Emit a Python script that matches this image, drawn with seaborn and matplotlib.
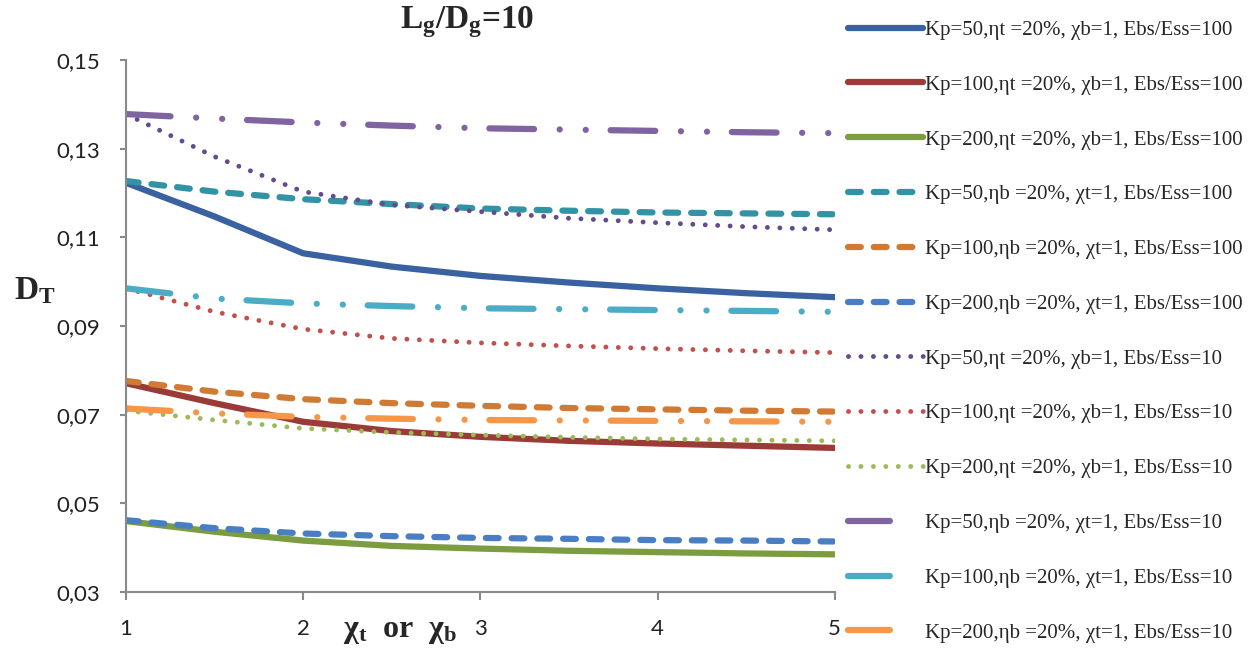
import matplotlib
matplotlib.use("Agg")
import matplotlib.pyplot as plt
from matplotlib.lines import Line2D
import seaborn as sns
import numpy as np

# values (x = chi_t or chi_b)
chi = [1, 1.5, 2, 2.5, 3, 3.5, 4, 4.5, 5]

kp50_t_100 = [0.1223, 0.1147, 0.1064, 0.1034, 0.1013, 0.0998, 0.0985, 0.0974, 0.0965]
kp100_t_100 = [0.0771, 0.0726, 0.0684, 0.0663, 0.0650, 0.0641, 0.0635, 0.0630, 0.0625]
kp200_t_100 = [0.0460, 0.0436, 0.0416, 0.0404, 0.0398, 0.0393, 0.0390, 0.0387, 0.0385]
kp50_b_100 = [0.1227, 0.1203, 0.1186, 0.1175, 0.1165, 0.1160, 0.1156, 0.1154, 0.1152]
kp100_b_100 = [0.0776, 0.0752, 0.0735, 0.0726, 0.0720, 0.0715, 0.0712, 0.0709, 0.0707]
kp200_b_100 = [0.0462, 0.0444, 0.0432, 0.0426, 0.0422, 0.0420, 0.0417, 0.0416, 0.0414]
kp50_t_10 = [0.1378, 0.1282, 0.1203, 0.1173, 0.1158, 0.1143, 0.1133, 0.1124, 0.1117]
kp100_t_10 = [0.0985, 0.0932, 0.0893, 0.0872, 0.0862, 0.0855, 0.0849, 0.0844, 0.0840]
kp200_t_10 = [0.0709, 0.0688, 0.0669, 0.0660, 0.0654, 0.0649, 0.0645, 0.0643, 0.0641]
kp50_b_10 = [0.1378, 0.1368, 0.1359, 0.1352, 0.1346, 0.1343, 0.1340, 0.1337, 0.1335]
kp100_b_10 = [0.0985, 0.0962, 0.0951, 0.0945, 0.0940, 0.0938, 0.0936, 0.0934, 0.0932]
kp200_b_10 = [0.0714, 0.0703, 0.0695, 0.0691, 0.0688, 0.0687, 0.0686, 0.0685, 0.0684]

labels = [
    "Kp=50,\u03b7t =20%, \u03c7b=1, Ebs/Ess=100",
    "Kp=100,\u03b7t =20%, \u03c7b=1, Ebs/Ess=100",
    "Kp=200,\u03b7t =20%, \u03c7b=1, Ebs/Ess=100",
    "Kp=50,\u03b7b =20%, \u03c7t=1, Ebs/Ess=100",
    "Kp=100,\u03b7b =20%, \u03c7t=1, Ebs/Ess=100",
    "Kp=200,\u03b7b =20%, \u03c7t=1, Ebs/Ess=100",
    "Kp=50,\u03b7t =20%, \u03c7b=1, Ebs/Ess=10",
    "Kp=100,\u03b7t =20%, \u03c7b=1, Ebs/Ess=10",
    "Kp=200,\u03b7t =20%, \u03c7b=1, Ebs/Ess=10",
    "Kp=50,\u03b7b =20%, \u03c7t=1, Ebs/Ess=10",
    "Kp=100,\u03b7b =20%, \u03c7t=1, Ebs/Ess=10",
    "Kp=200,\u03b7b =20%, \u03c7t=1, Ebs/Ess=10",
]
series = [kp50_t_100, kp100_t_100, kp200_t_100, kp50_b_100, kp100_b_100, kp200_b_100,
          kp50_t_10, kp100_t_10, kp200_t_10, kp50_b_10, kp100_b_10, kp200_b_10]

y_ticks = [0.03, 0.05, 0.07, 0.09, 0.11, 0.13, 0.15]
y_tick_labels = ["0,03", "0,05", "0,07", "0,09", "0,11", "0,13", "0,15"]
x_ticks = [1, 2, 3, 4, 5]

colors = ["#3a62a0", "#9b3b38", "#7b9c41", "#3193a4", "#d17a33", "#4a7ec3",
          "#634b8d", "#c2504d", "#9bbb59", "#8064a2", "#4bacc6", "#f79646"]

solid = "-"
dashed = (0, (2.05, 2.07))
dotted = (0, (0.01, 2.55))
dashdotdot = (0, (7.15, 4.1, 0.01, 4.16, 0.01, 3.97))
styles = [solid] * 3 + [dashed] * 3 + [dotted] * 3 + [dashdotdot] * 3
widths = [4.5] * 3 + [4.5] * 3 + [3.5] * 3 + [4.5] * 3

sns.set_style("ticks")
plt.rcParams["font.family"] = ["Liberation Serif", "DejaVu Serif"]
plt.rcParams["mathtext.fontset"] = "custom"
plt.rcParams["mathtext.rm"] = "Liberation Serif"
plt.rcParams["mathtext.it"] = "Liberation Serif:italic"
plt.rcParams["mathtext.bf"] = "Liberation Serif:bold"

fig = plt.figure(figsize=(12.59, 6.52), dpi=100)
ax = fig.add_axes([0.1, 0.092, 0.563, 0.816])

for vals, c, ls, lw in zip(series, colors, styles, widths):
    sns.lineplot(x=chi, y=vals, ax=ax, color=c, linestyle=ls, linewidth=lw,
                 dash_capstyle="round", solid_capstyle="round", legend=False)

ax.set_xlim(1, 5)
ax.set_ylim(0.03, 0.15)
ax.set_xticks(x_ticks)
ax.set_xticklabels([str(t) for t in x_ticks], fontsize=16, fontfamily="Lato")
ax.set_yticks(y_ticks)
ax.set_yticklabels(y_tick_labels, fontsize=16, fontfamily="Lato")
ax.set_xlabel("")
ax.set_ylabel("")
for side in ["top", "right"]:
    ax.spines[side].set_visible(False)
for side in ["left", "bottom"]:
    ax.spines[side].set_color("#898989")
    ax.spines[side].set_linewidth(1.5)
ax.tick_params(axis="both", colors="#898989", labelcolor="#222222", width=1.5)
ax.tick_params(axis="x", length=5.5, pad=14)
ax.tick_params(axis="y", length=4.5, pad=14)

fig.text(467 / 1259, 1 - 22 / 652, r"$\mathbf{L_g/D_g}$=10", ha="center", va="center",
         fontsize=24, fontweight="bold")
fig.text(35 / 1259, 1 - 291 / 652, r"$\mathbf{D_T}$", ha="center", va="center", fontsize=24)
fig.text(400 / 1259, 1 - 632 / 652, r"$\mathbf{\chi_t}$  or  $\mathbf{\chi_b}$", ha="center", va="center",
         fontsize=23, fontweight="bold")

# legend: long dash-dot-dot entries show only their first dash like the original
handles = []
for c, ls, lw in zip(colors, styles, widths):
    if ls == dashdotdot:
        ls = (0, (6.7, 50))
    handles.append(Line2D([], [], color=c, linestyle=ls, linewidth=lw,
                          dash_capstyle="round", solid_capstyle="round"))
fig.legend(handles, labels, loc="upper left", bbox_to_anchor=(840 / 1259, 1 - 12 / 652),
           frameon=False, fontsize=15, handlelength=3.6, handletextpad=0.1,
           labelspacing=1.69, borderaxespad=0)

fig.savefig("out.png", dpi=100)
